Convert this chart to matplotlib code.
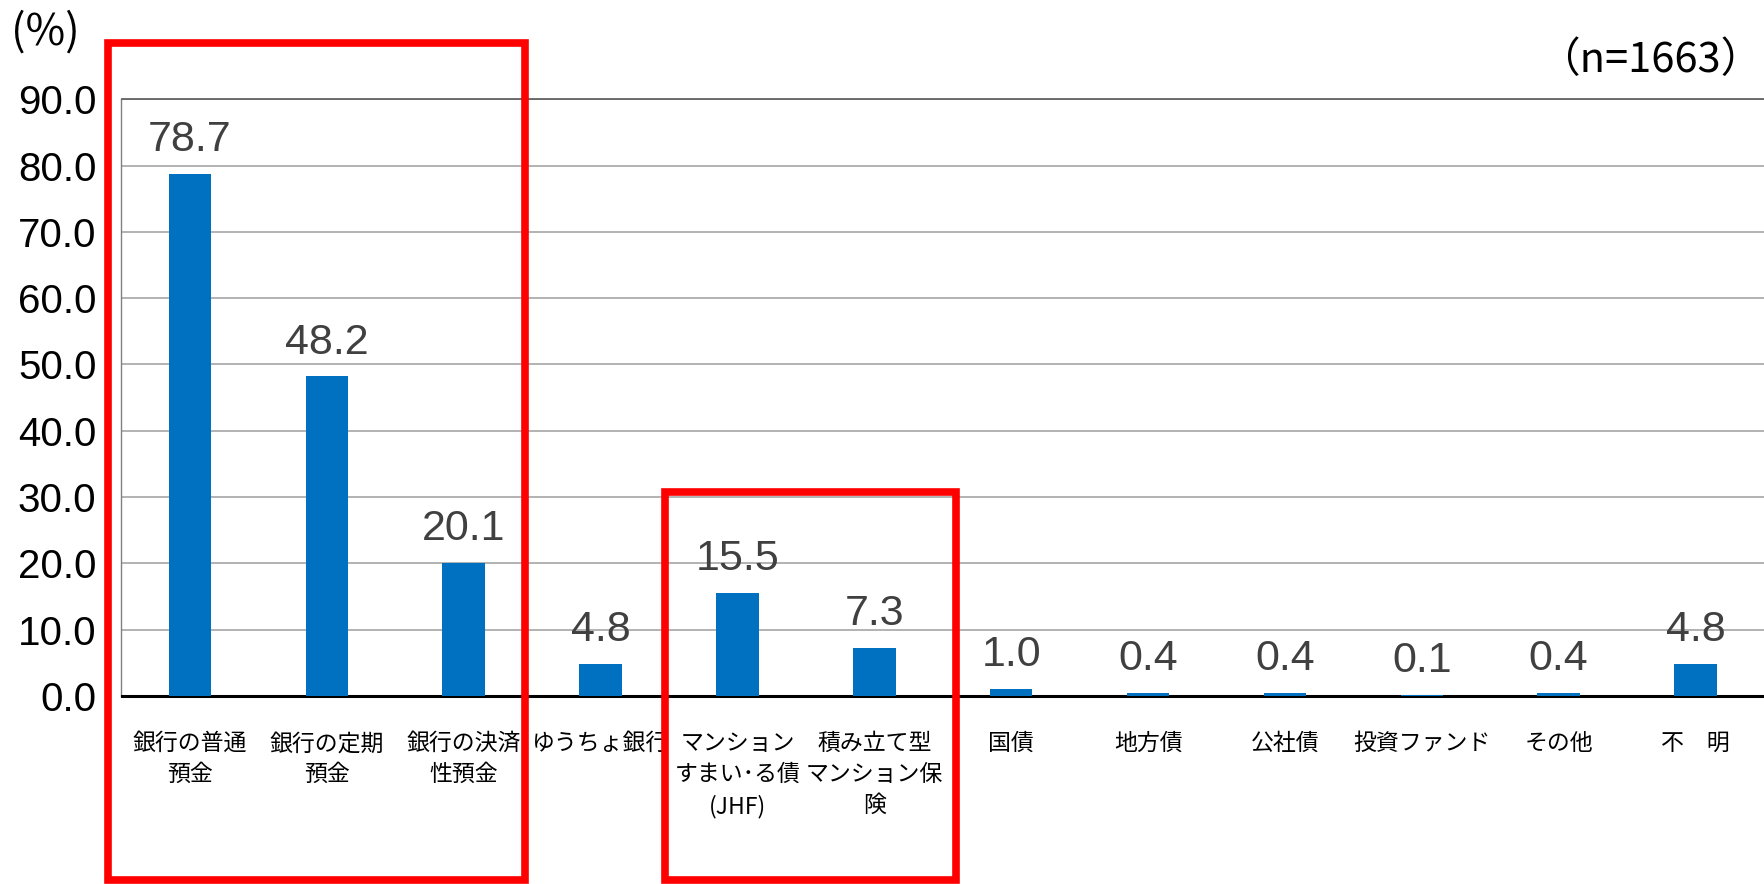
import matplotlib.pyplot as plt
from matplotlib.patches import Rectangle
from matplotlib.transforms import blended_transform_factory

plt.rcParams['font.family'] = ['Liberation Sans', 'Noto Sans CJK JP']

# datos
categorias = ["銀行の普通\n預金", "銀行の定期\n預金", "銀行の決済\n性預金", "ゆうちょ銀行",
              "マンション\nすまい･る債\n(JHF)", "積み立て型\nマンション保\n険",
              "国債", "地方債", "公社債", "投資ファンド", "その他", "不　明"]
valores = [78.7, 48.2, 20.1, 4.8, 15.5, 7.3, 1.0, 0.4, 0.4, 0.1, 0.4, 4.8]
yticks = [0, 10, 20, 30, 40, 50, 60, 70, 80, 90]
# grupos resaltados (indice inicial, indice final)
grupos = [(0, 2), (4, 5)]

fig = plt.figure(figsize=(17.64, 8.84), dpi=100)
ax = fig.add_axes([121.5/1764, 0.2127, 1 - 121.5/1764, 0.675])

x = range(len(valores))
ax.bar(x, valores, width=0.31, color="#0070C0", zorder=3)

for i, v in enumerate(valores):
    ax.annotate(f"{v:.1f}", (i, v), xytext=(0, 10), textcoords="offset points",
                ha="center", va="bottom", fontsize=31, color="#404040")

ax.set_xlim(-0.5, len(valores) - 0.5)
ax.set_ylim(0, 90)
ax.set_yticks(yticks)
ax.set_yticklabels([f"{t:.1f}" for t in yticks], fontsize=29, color="black")
ax.set_xticks(list(x))
ax.set_xticklabels(categorias, fontsize=16.5, family=['Noto Sans CJK JP'],
                   linespacing=1.45)
ax.tick_params(axis="x", length=0, pad=26)
ax.tick_params(axis="y", length=0, pad=18)

ax.grid(axis="y", color="#A6A6A6", linewidth=1.2, zorder=0)
ax.spines["right"].set_visible(False)
ax.spines["top"].set_color("#595959")
ax.spines["top"].set_linewidth(1.2)
ax.spines["left"].set_color("#808080")
ax.spines["left"].set_linewidth(1.0)
ax.spines["bottom"].set_color("black")
ax.spines["bottom"].set_linewidth(2.2)

fig.text(11/1764, 1 - 33/884, "(%)", fontsize=31, va="center", ha="left",
         family=['Noto Sans CJK JP'])
fig.text(0.999, 1 - 60/884, "（n=1663）", fontsize=30, va="center", ha="right",
         family=['Noto Sans CJK JP'])

# recuadros rojos
trans = blended_transform_factory(ax.transData, fig.transFigure)
margenes = [(0.6, 0.45, 0.951), (0.53, 0.6, 0.443)]
for (a, b), (ml, mr, top) in zip(grupos, margenes):
    r = Rectangle((a - ml, 0.005), (b + mr) - (a - ml), top - 0.005,
                  transform=trans, fill=False, edgecolor="#FF0000",
                  linewidth=5.5, clip_on=False, zorder=5)
    fig.add_artist(r)

fig.savefig("out.png", dpi=100)
